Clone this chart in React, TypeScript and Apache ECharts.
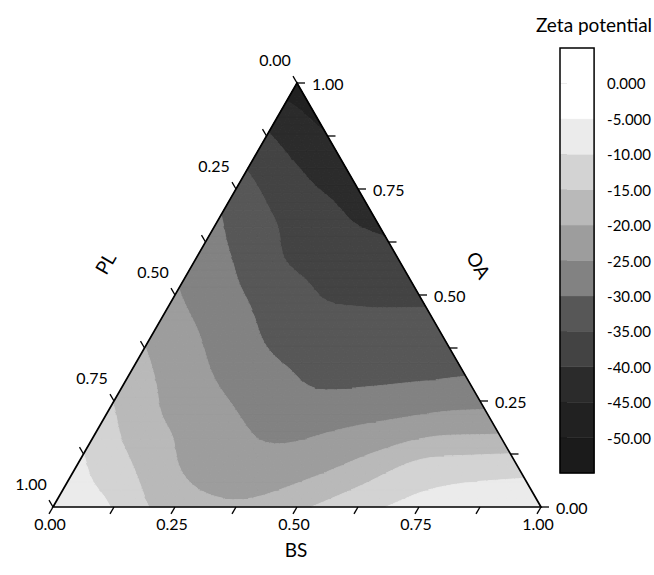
import React, { useEffect, useRef } from 'react';
import * as echarts from 'echarts';

// Zeta potential, one row per OA level (0.0 .. 1.0),
// each row indexed by BS = 0, 0.1, ... , 1 - OA  (PL = 1 - OA - BS)
const zetaOA00 = [-6, -9, -15.2, -18.5, -19, -16, -12.5, -9.5, -7, -6, -5.5];
const zetaOA01 = [-9, -14.3, -19.7, -23, -23.5, -21.5, -18, -14, -13, -12.5];
const zetaOA02 = [-13.1, -18.8, -22.2, -25.2, -26.5, -25.7, -24.5, -23, -22.7];
const zetaOA03 = [-17.2, -21.8, -25.6, -28.5, -30.8, -30.7, -30.2, -29.6];
const zetaOA04 = [-20.8, -24.9, -29.0, -32.2, -33.1, -33.1, -32.8];
const zetaOA05 = [-24.5, -28.4, -32.0, -35.1, -35.8, -35.8];
const zetaOA06 = [-27.4, -31.6, -36.2, -37.9, -39.0];
const zetaOA07 = [-30.4, -35.2, -38.7, -41.4];
const zetaOA08 = [-35.3, -39.8, -43.4];
const zetaOA09 = [-41.0, -45.3];
const zetaOA10 = [-48];
const ZETA_ROWS = [zetaOA00, zetaOA01, zetaOA02, zetaOA03, zetaOA04, zetaOA05, zetaOA06, zetaOA07, zetaOA08, zetaOA09, zetaOA10];

// contour levels and fills (bottom band first)
const LEVELS = [-55, -50, -45, -40, -35, -30, -25, -20, -15, -10, -5, 0, 5];
const LEVEL_COLORS = ['#1b1b1b', '#212121', '#2b2b2b', '#434343', '#575757', '#828282', '#9d9d9d', '#b9b9b9', '#d3d3d3', '#ebebeb', '#ffffff', '#ffffff'];
const CBAR_TICKS = [0, -5, -10, -15, -20, -25, -30, -35, -40, -45, -50];

const AXIS_TICKS = [0, 0.125, 0.25, 0.375, 0.5, 0.625, 0.75, 0.875, 1];
const AXIS_LABEL_VALUES = [0, 0.25, 0.5, 0.75, 1];
const AXIS_LABELS = ['0.00', '0.25', '0.50', '0.75', '1.00'];

const FONT = 'Lato, "Open Sans", sans-serif';
const S3 = Math.sqrt(3) / 2;
const toXY = (bs: number, oa: number) => [bs + oa / 2, oa * S3];

type P = number[];

// value at coarse node (i = OA index, j = BS index), linearly extended outside the triangle
function gridValue(i: number, j: number): number {
  const n = ZETA_ROWS.length - 1;
  if (i >= 0 && j >= 0 && i + j <= n) return ZETA_ROWS[i][j];
  if (i < 0) return 2 * gridValue(0, j) - gridValue(1, j);
  if (j < 0) return 2 * gridValue(i, 0) - gridValue(i, 1);
  if (j >= i) return 2 * gridValue(i, j - 1) - gridValue(i, j - 2);
  return 2 * gridValue(i - 1, j) - gridValue(i - 2, j);
}
const cr = (p0: number, p1: number, p2: number, p3: number, t: number) =>
  0.5 * (2 * p1 + (-p0 + p2) * t + (2 * p0 - 5 * p1 + 4 * p2 - p3) * t * t + (-p0 + 3 * p1 - 3 * p2 + p3) * t * t * t);
function sampleField(fi: number, fj: number): number {
  const i0 = Math.floor(fi);
  const j0 = Math.floor(fj);
  const ti = fi - i0;
  const tj = fj - j0;
  const rows: number[] = [];
  for (let r = -1; r <= 2; r++) {
    rows.push(cr(gridValue(i0 + r, j0 - 1), gridValue(i0 + r, j0), gridValue(i0 + r, j0 + 1), gridValue(i0 + r, j0 + 2), tj));
  }
  return cr(rows[0], rows[1], rows[2], rows[3], ti);
}

function clip(poly: P[], lev: number, keepAbove: boolean): P[] {
  const out: P[] = [];
  for (let k = 0; k < poly.length; k++) {
    const a = poly[k];
    const b = poly[(k + 1) % poly.length];
    const ina = keepAbove ? a[2] >= lev : a[2] <= lev;
    const inb = keepAbove ? b[2] >= lev : b[2] <= lev;
    if (ina) out.push(a);
    if (ina !== inb) {
      const t = (lev - a[2]) / (b[2] - a[2]);
      out.push([a[0] + t * (b[0] - a[0]), a[1] + t * (b[1] - a[1]), lev]);
    }
  }
  return out;
}

function buildPolys() {
  const n = ZETA_ROWS.length - 1;
  const m = 5;
  const N = n * m;
  const vals: number[][] = [];
  for (let I = 0; I <= N; I++) {
    const row: number[] = [];
    for (let J = 0; J <= N - I; J++) row.push(sampleField(I / m, J / m));
    vals.push(row);
  }
  const node = (I: number, J: number): P => {
    const [x, y] = toXY(J / N, I / N);
    return [x, y, vals[I][J]];
  };
  const polys: { pts: P[]; color: string }[] = [];
  const addTri = (tri: P[]) => {
    for (let k = 0; k < LEVELS.length - 1; k++) {
      const p = clip(clip(tri, LEVELS[k], true), LEVELS[k + 1], false);
      if (p.length >= 3) polys.push({ pts: p, color: LEVEL_COLORS[k] });
    }
  };
  for (let I = 0; I < N; I++) {
    for (let J = 0; J <= N - 1 - I; J++) {
      addTri([node(I, J), node(I, J + 1), node(I + 1, J)]);
      if (J < N - 1 - I) addTri([node(I, J + 1), node(I + 1, J + 1), node(I + 1, J)]);
    }
  }
  return polys;
}

export default function App() {
  const ref = useRef<HTMLDivElement>(null);
  useEffect(() => {
    if (!ref.current) return;
    const chart = echarts.init(ref.current, undefined, { renderer: 'svg' });
    const polys = buildPolys();
    const txt = (text: string, x: number, y: number, size: number, align: string, rotation = 0) => ({
      type: 'text',
      x,
      y,
      rotation,
      style: {
        text,
        fill: '#000',
        font: `${size}px ${FONT}`,
        align,
        verticalAlign: 'middle',
        textAlign: align,
        textVerticalAlign: 'middle',
      },
    });

    const option: any = {
      animation: false,
      title: {
        text: 'Zeta potential',
        left: 589,
        top: 10,
        textAlign: 'center',
        textStyle: { fontFamily: FONT, fontSize: 19, fontWeight: 'normal', color: '#000' },
      },
      grid: [
        { left: 53, top: 83, width: 488, height: 424 },
        { left: 560, top: 48, width: 35, height: 425 },
      ],
      xAxis: [
        { type: 'value', min: 0, max: 1, show: false, gridIndex: 0 },
        { type: 'value', min: 0, max: 1, show: false, gridIndex: 1 },
      ],
      yAxis: [
        { type: 'value', min: 0, max: S3, show: false, gridIndex: 0 },
        {
          type: 'value',
          gridIndex: 1,
          min: -55,
          max: 5,
          interval: 5,
          position: 'right',
          axisLine: { show: false },
          splitLine: { show: false },
          axisTick: { show: true, length: 7, customValues: CBAR_TICKS, lineStyle: { color: '#000', width: 1.2 } },
          axisLabel: {
            customValues: CBAR_TICKS,
            formatter: (v: number) => v.toPrecision(4),
            margin: 13,
            color: '#000',
            fontSize: 15,
            fontFamily: FONT,
          },
        },
      ],
      series: [
        {
          type: 'custom',
          coordinateSystem: 'cartesian2d',
          xAxisIndex: 0,
          yAxisIndex: 0,
          silent: true,
          data: polys.map((p, i) => [p.pts[0][0], p.pts[0][1], i]),
          renderItem: (params: any, api: any) => {
            const poly = polys[params.dataIndex];
            const pts = poly.pts.map((q) => api.coord([q[0], q[1]]));
            return {
              type: 'polygon',
              shape: { points: pts },
              style: { fill: poly.color, stroke: poly.color, lineWidth: 1 },
            };
          },
        },
        {
          type: 'custom',
          coordinateSystem: 'cartesian2d',
          xAxisIndex: 0,
          yAxisIndex: 0,
          silent: true,
          z: 5,
          data: [[0.5, 0.3]],
          renderItem: (_p: any, api: any) => {
            const c = (bs: number, oa: number) => api.coord(toXY(bs, oa));
            const L = c(0, 0);
            const R = c(1, 0);
            const T = c(0, 1);
            const kids: any[] = [];
            kids.push({
              type: 'polygon',
              shape: { points: [L, R, T] },
              style: { fill: 'none', stroke: '#000', lineWidth: 1.7 },
            });
            const TL = 8;
            const ls = { stroke: '#000', lineWidth: 1.3 };
            AXIS_TICKS.forEach((t) => {
              const pb = c(t, 0);
              kids.push({ type: 'line', shape: { x1: pb[0], y1: pb[1], x2: pb[0] - TL * 0.5, y2: pb[1] + TL * S3 }, style: ls });
              const pr = c(1 - t, t);
              kids.push({ type: 'line', shape: { x1: pr[0], y1: pr[1], x2: pr[0] + TL, y2: pr[1] }, style: ls });
              const pl = c(0, 1 - t);
              kids.push({ type: 'line', shape: { x1: pl[0], y1: pl[1], x2: pl[0] - TL * 0.5, y2: pl[1] - TL * S3 }, style: ls });
            });
            AXIS_LABEL_VALUES.forEach((t, i) => {
              const pb = c(t, 0);
              kids.push(txt(AXIS_LABELS[i], pb[0] - 3, pb[1] + 16, 16, 'center'));
              const pr = c(1 - t, t);
              kids.push(txt(AXIS_LABELS[i], pr[0] + 15, pr[1], 16, 'left'));
              const pl = c(0, 1 - t);
              kids.push(txt(AXIS_LABELS[i], pl[0] - 22, pl[1] - 24, 16, 'center'));
            });
            const mL = c(0, 0.5);
            const mR = c(0.5, 0.5);
            const mB = c(0.5, 0);
            kids.push(txt('PL', mL[0] - 70, mL[1] - 32, 19, 'center', Math.PI / 3));
            kids.push(txt('OA', mR[0] + 60, mR[1] - 30, 19, 'center', -Math.PI / 3));
            kids.push(txt('BS', mB[0] - 1, mB[1] + 42, 19, 'center'));
            return { type: 'group', children: kids };
          },
        },
        {
          type: 'custom',
          coordinateSystem: 'cartesian2d',
          xAxisIndex: 1,
          yAxisIndex: 1,
          silent: true,
          data: [[0.5, -25]],
          renderItem: (_p: any, api: any) => {
            const kids: any[] = [];
            for (let k = 0; k < LEVELS.length - 1; k++) {
              const p1 = api.coord([0, LEVELS[k + 1]]);
              const p2 = api.coord([1, LEVELS[k]]);
              kids.push({
                type: 'rect',
                shape: { x: p1[0], y: p1[1], width: p2[0] - p1[0], height: p2[1] - p1[1] },
                style: { fill: LEVEL_COLORS[k], stroke: LEVEL_COLORS[k], lineWidth: 0.5 },
              });
            }
            const a = api.coord([0, LEVELS[LEVELS.length - 1]]);
            const b = api.coord([1, LEVELS[0]]);
            kids.push({
              type: 'rect',
              shape: { x: a[0], y: a[1], width: b[0] - a[0], height: b[1] - a[1] },
              style: { fill: 'none', stroke: '#000', lineWidth: 1.5 },
            });
            return { type: 'group', children: kids };
          },
        },
      ],
    };
    chart.setOption(option);
    return () => chart.dispose();
  }, []);
  return <div ref={ref} style={{ position: 'absolute', left: 0, top: 0, width: 654, height: 575 }} />;
}
